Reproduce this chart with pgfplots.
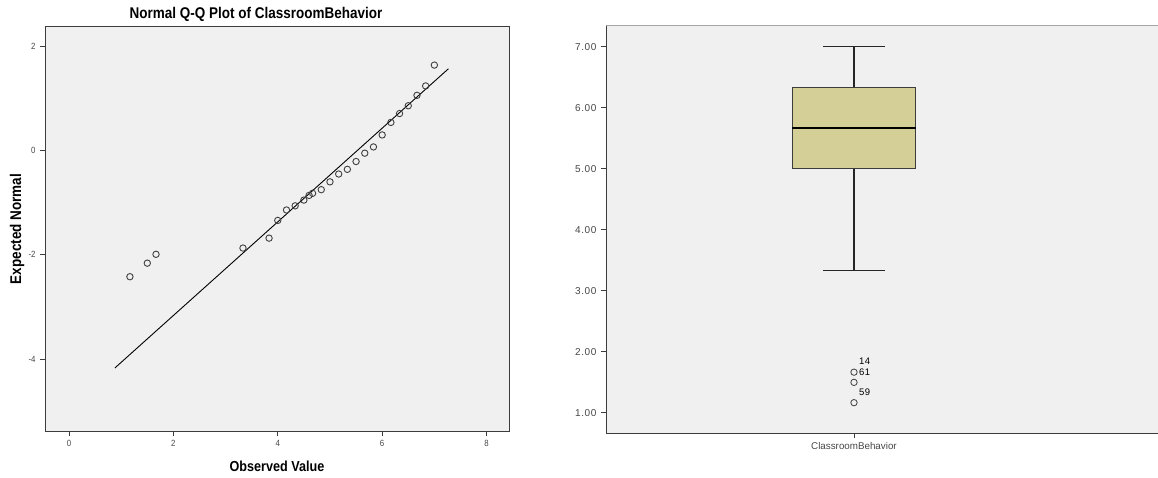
\documentclass[border=0pt]{standalone}
\usepackage{pgfplots}
\pgfplotsset{compat=1.18}
\usepackage{fontspec}
\setmainfont{Liberation Sans}
\newfontfamily\condfont[FakeStretch=0.87]{Liberation Sans}
\newfontfamily\widefont[LetterSpace=6]{Liberation Sans}
\definecolor{bgc}{RGB}{240,240,240}
\definecolor{boxc}{RGB}{211,207,151}
\definecolor{axc}{RGB}{60,60,60}
\definecolor{tickc}{RGB}{70,70,70}
\begin{document}
\begin{tikzpicture}
\useasboundingbox (0pt,0pt) rectangle (1158pt,477pt);
% ---------- Left: Q-Q plot ----------
\begin{axis}[
  at={(45pt,46pt)}, anchor=south west,
  scale only axis, width=464pt, height=405pt,
  xmin=-0.46, xmax=8.43, ymin=-5.38, ymax=2.39,
  axis background/.style={fill=bgc},
  axis line style={axc, line width=0.9pt},
  xtick={0,2,4,6,8}, xticklabels={0,2,4,6,8},
  ytick={-4,-2,0,2}, yticklabels={-4,-2,0,2},
  tick align=outside, tick pos=left,
  major tick length=5pt,
  tick style={axc, line width=0.8pt},
  ticklabel style={font=\condfont\fontsize{9}{10}\selectfont, text=tickc},
  xticklabel style={yshift=-1pt},
  yticklabel style={xshift=-1pt},
  clip=false,
]
\addplot[black, line width=0.9pt, no marks] coordinates {(0.88,-4.17) (7.27,1.57)};
\addplot[only marks, mark=o, mark size=3.2pt, mark options={line width=0.9pt, draw=black!75}] coordinates {
(1.167,-2.42) (1.5,-2.16) (1.667,-1.99) (3.333,-1.87) (3.833,-1.68)
(4.0,-1.34) (4.167,-1.14) (4.333,-1.06) (4.5,-0.95) (4.6,-0.86) (4.667,-0.82)
(4.833,-0.75) (5.0,-0.60) (5.167,-0.45) (5.333,-0.36) (5.5,-0.21)
(5.667,-0.05) (5.833,0.07) (6.0,0.30) (6.167,0.54) (6.333,0.71)
(6.5,0.86) (6.667,1.06) (6.833,1.24) (7.0,1.64)
};
\end{axis}
\node at (256pt,463pt) {\condfont\bfseries\fontsize{15.5}{17}\selectfont Normal Q-Q Plot of ClassroomBehavior};
\node[rotate=90] at (17pt,248pt) {\condfont\bfseries\fontsize{15.5}{17}\selectfont Expected Normal};
\node at (277pt,11pt) {\condfont\bfseries\fontsize{14.5}{16}\selectfont Observed Value};
% ---------- Right: box plot ----------
\begin{axis}[
  at={(606pt,44pt)}, anchor=south west,
  scale only axis, width=553pt, height=407pt,
  xmin=-1, xmax=1.23, ymin=0.67, ymax=7.34,
  axis background/.style={fill=bgc},
  axis x line*=bottom, axis y line*=left,
  axis line style={axc, line width=1pt, -},
  xtick={0}, xticklabels={ClassroomBehavior},
  ytick={1,2,3,4,5,6,7}, yticklabels={1.00,2.00,3.00,4.00,5.00,6.00,7.00},
  tick align=outside,
  major tick length=5pt,
  tick style={axc, line width=0.8pt},
  yticklabel style={font=\widefont\fontsize{10}{11}\selectfont, text=tickc, xshift=-1pt},
  xticklabel style={font=\fontsize{9.8}{11}\selectfont, text=tickc, yshift=-1pt},
  clip=false,
]
\draw[gray!70, line width=1pt] (rel axis cs:0,1) -- (rel axis cs:1,1);
% box (lower quartile 5.000, upper quartile 6.333)
\addplot[draw=axc, line width=1pt, fill=boxc, line join=miter] coordinates {(-0.25,5.0) (0.25,5.0) (0.25,6.333) (-0.25,6.333) (-0.25,5.0)};
% whiskers
\addplot[black!85, line width=1.5pt] coordinates {(0,6.333) (0,7.0)};
\addplot[black!85, line width=1.5pt] coordinates {(-0.124,7.0) (0.124,7.0)};
\addplot[black!85, line width=1.5pt] coordinates {(0,5.0) (0,3.333)};
\addplot[black!85, line width=1.5pt] coordinates {(-0.124,3.333) (0.124,3.333)};
% median
\addplot[black, line width=2.3pt] coordinates {(-0.25,5.667) (0.25,5.667)};
% outliers
\addplot[only marks, mark=o, mark size=3.2pt, mark options={line width=0.8pt, draw=black!75}] coordinates {(0,1.667) (0,1.5) (0,1.167)};
\node[anchor=west, font=\widefont\fontsize{9.5}{10}\selectfont, inner sep=0pt] at (axis cs:0.02,1.667) {61};
\node[anchor=west, font=\widefont\fontsize{9.5}{10}\selectfont, inner sep=0pt] at (axis cs:0.02,1.85) {14};
\node[anchor=west, font=\widefont\fontsize{9.5}{10}\selectfont, inner sep=0pt] at (axis cs:0.02,1.33) {59};
\end{axis}
\end{tikzpicture}
\end{document}
